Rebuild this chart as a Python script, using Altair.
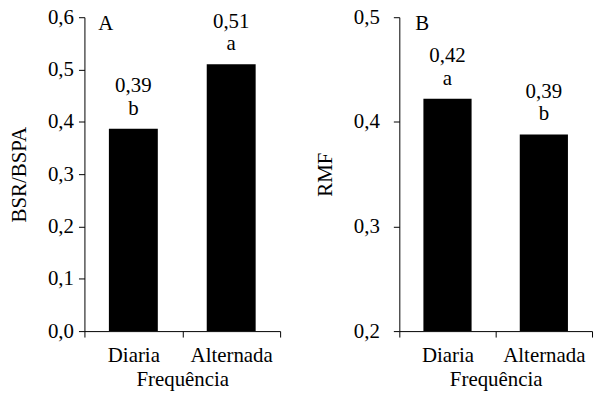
import altair as alt
import pandas as pd

categories = ["Diaria", "Alternada"]

bsr_values = [0.387, 0.510]
bsr_labels = ["0,39", "0,51"]
bsr_letters = ["b", "a"]
bsr_ticks = [0.0, 0.1, 0.2, 0.3, 0.4, 0.5, 0.6]

rmf_values = [0.422, 0.388]
rmf_labels = ["0,42", "0,39"]
rmf_letters = ["a", "b"]
rmf_ticks = [0.2, 0.3, 0.4, 0.5]

FONT = "Times New Roman, Liberation Serif, serif"
FS = 21


def panel(values, labels, letters, ticks, ytitle, tag, width, label_pad, tag_x):
    df = pd.DataFrame({"cat": categories, "v": values, "lab": labels, "let": letters})
    base = alt.Chart(df)
    x = alt.X(
        "cat:N",
        sort=categories,
        title="Frequência",
        scale=alt.Scale(paddingInner=0, paddingOuter=0),
        axis=alt.Axis(labelAngle=0, tickBand="extent", labelPadding=8, titlePadding=3),
    )
    y = alt.Y(
        "v:Q",
        title=ytitle,
        scale=alt.Scale(domain=[ticks[0], ticks[-1]], zero=False, nice=False),
        axis=alt.Axis(
            values=ticks,
            labelExpr="replace(format(datum.value, '.1f'), '.', ',')",
            labelPadding=label_pad,
            titlePadding=18,
        ),
    )
    bars = base.mark_bar(color="black", width=alt.RelativeBandSize(0.5)).encode(
        x=x, y=y, y2=alt.datum(ticks[0])
    )
    t1 = base.mark_text(dy=-37, baseline="alphabetic", font=FONT, fontSize=FS, color="black").encode(
        x=alt.X("cat:N", sort=categories), y="v:Q", text="lab:N"
    )
    t2 = base.mark_text(dy=-14, baseline="alphabetic", font=FONT, fontSize=FS, color="black").encode(
        x=alt.X("cat:N", sort=categories), y="v:Q", text="let:N"
    )
    tg = alt.Chart(pd.DataFrame({"t": [tag]})).mark_text(
        align="left", baseline="alphabetic", font=FONT, fontSize=FS, color="black"
    ).encode(x=alt.value(tag_x), y=alt.value(13), text="t:N")
    return alt.layer(bars, t1, t2, tg).properties(width=width, height=316)


left = panel(bsr_values, bsr_labels, bsr_letters, bsr_ticks, "BSR/BSPA", "A", 197, 5, 14)
right = panel(rmf_values, rmf_labels, rmf_letters, rmf_ticks, "RMF", "B", 194, 14, 16)

chart = (
    alt.hconcat(left, right, spacing=33)
    .properties(padding={"left": 8, "top": 5, "right": 3, "bottom": 3}, background="white")
    .configure_view(stroke=None)
    .configure_axis(
        grid=False,
        domainColor="black",
        tickColor="black",
        tickSize=6,
        labelFont=FONT,
        titleFont=FONT,
        labelFontSize=FS,
        titleFontSize=FS,
        titleFontWeight="normal",
        labelColor="black",
        titleColor="black",
    )
)

chart.save("out.html", embed_options={"renderer": "svg", "actions": False})
